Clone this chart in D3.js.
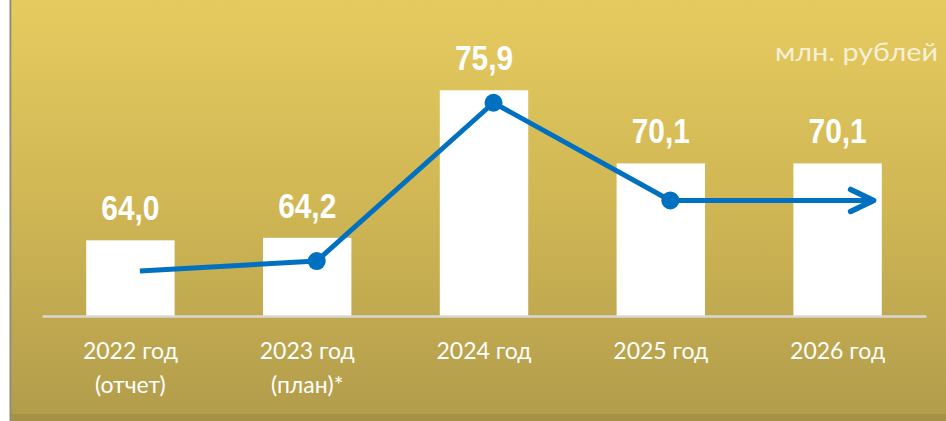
<!DOCTYPE html>
<html>
<head>
<meta charset="utf-8">
<script src="https://cdn.jsdelivr.net/npm/d3@7"></script>
<style>
  html, body { margin: 0; padding: 0; background: #ffffff; }
  svg { display: block; }
</style>
</head>
<body>
<svg id="chart" width="946" height="421"></svg>
<script>
// Program financing, million roubles
const categories = ["2022", "2023", "2024", "2025", "2026"];
const categoryLabels = [
  ["2022 год", "(отчет)"],
  ["2023 год", "(план)*"],
  ["2024 год"],
  ["2025 год"],
  ["2026 год"]
];
const values = [64.0, 64.2, 75.9, 70.1, 70.1];
const valueLabels = ["64,0", "64,2", "75,9", "70,1", "70,1"];
// Trend arrow drawn over the bars (same value scale)
const trend = [61.57, 62.36, 74.91, 67.16, 67.16];
const trendMarkers = [false, true, true, true, false];
const title = "ОБЪЕМ ФИНАНСИРОВАНИЯ ПРОГРАММЫ";
const unitLabel = "млн. рублей";

const W = 946, H = 421;
const baseline = 316;
const svg = d3.select("#chart");

// Panel background
const defs = svg.append("defs");
const grad = defs.append("linearGradient")
  .attr("id", "panelGrad").attr("x1", 0).attr("y1", 0).attr("x2", 0).attr("y2", 1);
grad.append("stop").attr("offset", "0%").attr("stop-color", "#e5cb5f");
grad.append("stop").attr("offset", "45%").attr("stop-color", "#d2b855");
grad.append("stop").attr("offset", "100%").attr("stop-color", "#b19c4b");

const blur = defs.append("filter").attr("id", "soft")
  .attr("x", "-5%").attr("y", "-50%").attr("width", "110%").attr("height", "200%");
blur.append("feGaussianBlur").attr("stdDeviation", 1.4);

svg.append("rect").attr("x", 0).attr("y", 0).attr("width", W).attr("height", H)
  .attr("fill", "#ffffff");
svg.append("rect").attr("x", 11).attr("y", 0).attr("width", W - 11).attr("height", H)
  .attr("fill", "url(#panelGrad)");
svg.append("rect").attr("x", 11).attr("y", 414).attr("width", W - 11).attr("height", H - 414)
  .attr("fill", "#a69247");
svg.append("rect").attr("x", 9.5).attr("y", 0).attr("width", 1.8).attr("height", H)
  .attr("fill", "#8f8a78");

// Title: only its lower edge falls inside the panel
svg.append("text")
  .attr("x", 489).attr("y", -2)
  .attr("text-anchor", "middle")
  .attr("font-family", "'Liberation Sans', Arial, sans-serif")
  .attr("font-weight", "bold")
  .attr("font-size", 34)
  .attr("textLength", 690)
  .attr("lengthAdjust", "spacingAndGlyphs")
  .attr("fill", "#7d7450")
  .attr("filter", "url(#soft)")
  .text(title);

// Scales
const x = d3.scaleBand()
  .domain(categories)
  .range([42, 926])
  .paddingInner(0.5)
  .paddingOuter(0.25);

const y = d3.scaleLinear()
  .domain([58, 76])
  .range([baseline, 89]);

// Bars
svg.append("g").selectAll("rect")
  .data(values)
  .join("rect")
  .attr("x", (d, i) => x(categories[i]))
  .attr("y", d => y(d))
  .attr("width", x.bandwidth())
  .attr("height", d => baseline - y(d))
  .attr("fill", "#ffffff");

// Category axis
const axis = svg.append("g")
  .attr("transform", `translate(0,${baseline})`)
  .call(d3.axisBottom(x).tickSize(0).tickSizeOuter(0));
axis.select(".domain")
  .attr("stroke", "#d8d8d6")
  .attr("stroke-width", 2.6);
axis.selectAll(".tick text").each(function (d, i) {
  const t = d3.select(this);
  t.text(null).attr("y", 0).attr("dy", null)
    .attr("fill", "#ffffff")
    .attr("font-family", "Lato, 'Open Sans', sans-serif")
    .attr("font-size", 23);
  categoryLabels[i].forEach((line, k) => {
    t.append("tspan").attr("x", 0).attr("y", 43 + k * 34).text(line);
  });
});

// Value labels (bold, narrowed horizontally)
svg.append("g").selectAll("text")
  .data(values)
  .join("text")
  .attr("transform", (d, i) =>
    `translate(${x(categories[i]) + x.bandwidth() / 2},${y(d) - 20}) scale(0.83,1)`)
  .attr("text-anchor", "middle")
  .attr("font-family", "'Liberation Sans Narrow', 'Liberation Sans', Arial, sans-serif")
  .attr("font-weight", "bold")
  .attr("font-size", 36)
  .attr("fill", "#ffffff")
  .text((d, i) => valueLabels[i]);

// Unit label
svg.append("text")
  .attr("x", 938).attr("y", 61)
  .attr("text-anchor", "end")
  .attr("font-family", "Lato, 'Open Sans', sans-serif")
  .attr("font-size", 25)
  .attr("textLength", 163)
  .attr("lengthAdjust", "spacingAndGlyphs")
  .attr("fill", "#f7f0d6")
  .text(unitLabel);

// Trend line with arrow head
const shift = 9.5;          // line runs slightly right of bar centres
const overshoot = 36;       // arrow reaches past the last bar centre
const tx = (i) => x(categories[i]) + x.bandwidth() / 2 +
  (i === categories.length - 1 ? overshoot : shift);
const pts = trend.map((v, i) => [tx(i), y(v)]);

svg.append("path")
  .attr("d", d3.line()(pts))
  .attr("fill", "none")
  .attr("stroke", "#0070c0")
  .attr("stroke-width", 5)
  .attr("stroke-linejoin", "round");

const tip = pts[pts.length - 1];
svg.append("path")
  .attr("d", d3.line()([[tip[0] - 23, tip[1] - 11], tip, [tip[0] - 23, tip[1] + 11]]))
  .attr("fill", "none")
  .attr("stroke", "#0070c0")
  .attr("stroke-width", 5.5)
  .attr("stroke-linecap", "round")
  .attr("stroke-linejoin", "round");

svg.append("g").selectAll("circle")
  .data(pts.filter((p, i) => trendMarkers[i]))
  .join("circle")
  .attr("cx", d => d[0])
  .attr("cy", d => d[1])
  .attr("r", 9)
  .attr("fill", "#0070c0");
</script>
</body>
</html>
